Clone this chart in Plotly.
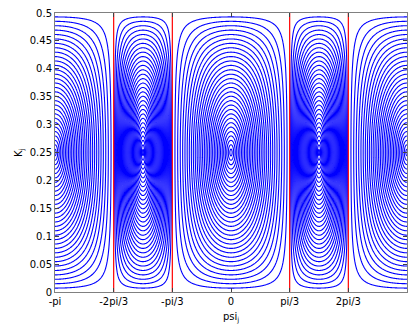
import numpy as np
import plotly.graph_objects as go

# ---- data ----
psi_ticks = [-np.pi, -2*np.pi/3, -np.pi/3, 0.0, np.pi/3, 2*np.pi/3, np.pi]
psi_tick_labels = ["-pi", "-2pi/3", "-pi/3", "0", "pi/3", "2pi/3", "pi"]
k_ticks = [0, 0.05, 0.1, 0.15, 0.2, 0.25, 0.3, 0.35, 0.4, 0.45, 0.5]
k_tick_labels = ["0", "0.05", "0.1", "0.15", "0.2", "0.25", "0.3", "0.35", "0.4", "0.45", "0.5"]
separatrix_psi = [-2*np.pi/3, -np.pi/3, np.pi/3, 2*np.pi/3]   # red lines
separatrix_k = [0.0, 0.5]
# distance (in K) of orbit crossings from the cell centre K=0.25, read at cell centres
orbit_offset_start = 0.006
orbit_offset_end = 0.244
orbit_offset_step = 0.0079

# ---- phase-portrait field (cells bounded by the separatrices) ----
psi = np.linspace(-np.pi, np.pi, 600)
K = np.linspace(0.0, 0.5, 300)
P, KK = np.meshgrid(psi, K)
g = KK * (0.5 - KK)
f = 0.5 + np.cos(2 * P)
H = g * f
fext = np.where(f >= 0, 1.5, 0.5)
Z = np.sqrt(np.clip(0.0625 - np.abs(H) / fext, 0, None))

fig = go.Figure()
fig.add_trace(go.Contour(
    x=psi, y=K, z=Z,
    contours=dict(start=orbit_offset_start, end=orbit_offset_end,
                  size=orbit_offset_step, coloring="lines"),
    colorscale=[[0, "#0000ff"], [1, "#0000ff"]],
    showscale=False, line=dict(width=1.1), hoverinfo="skip",
))
for xs in separatrix_psi:
    fig.add_trace(go.Scatter(x=[xs, xs], y=separatrix_k, mode="lines",
                             line=dict(color="#ff0000", width=1.2),
                             showlegend=False, hoverinfo="skip"))

font = dict(family="DejaVu Sans", size=10, color="#000")
axis_common = dict(showline=True, mirror="ticks", linecolor="#808080", linewidth=1,
                   ticks="inside", ticklen=4, tickcolor="#404040", showgrid=False,
                   zeroline=False, automargin=False, tickfont=font)
fig.update_layout(
    width=410, height=324,
    margin=dict(l=55, r=3, t=13, b=32),
    paper_bgcolor="white", plot_bgcolor="white",
    showlegend=False,
    xaxis=dict(range=[-np.pi, np.pi], tickvals=psi_ticks, ticktext=psi_tick_labels,
               **axis_common),
    yaxis=dict(range=[0, 0.5], tickvals=k_ticks, ticktext=k_tick_labels,
               **axis_common),
    annotations=[
        dict(text="psi<sub>j</sub>", x=0.5, xref="paper", y=-0.06, yref="paper",
             yanchor="top", showarrow=False, font=font),
        dict(text="K<sub>j</sub>", x=-0.125, xref="paper", y=0.5, yref="paper",
             textangle=-90, showarrow=False, font=font),
    ],
)
fig.write_html("out.html", config={"displayModeBar": False},
               post_script="document.body.style.margin='0';document.body.style.overflow='hidden';")
